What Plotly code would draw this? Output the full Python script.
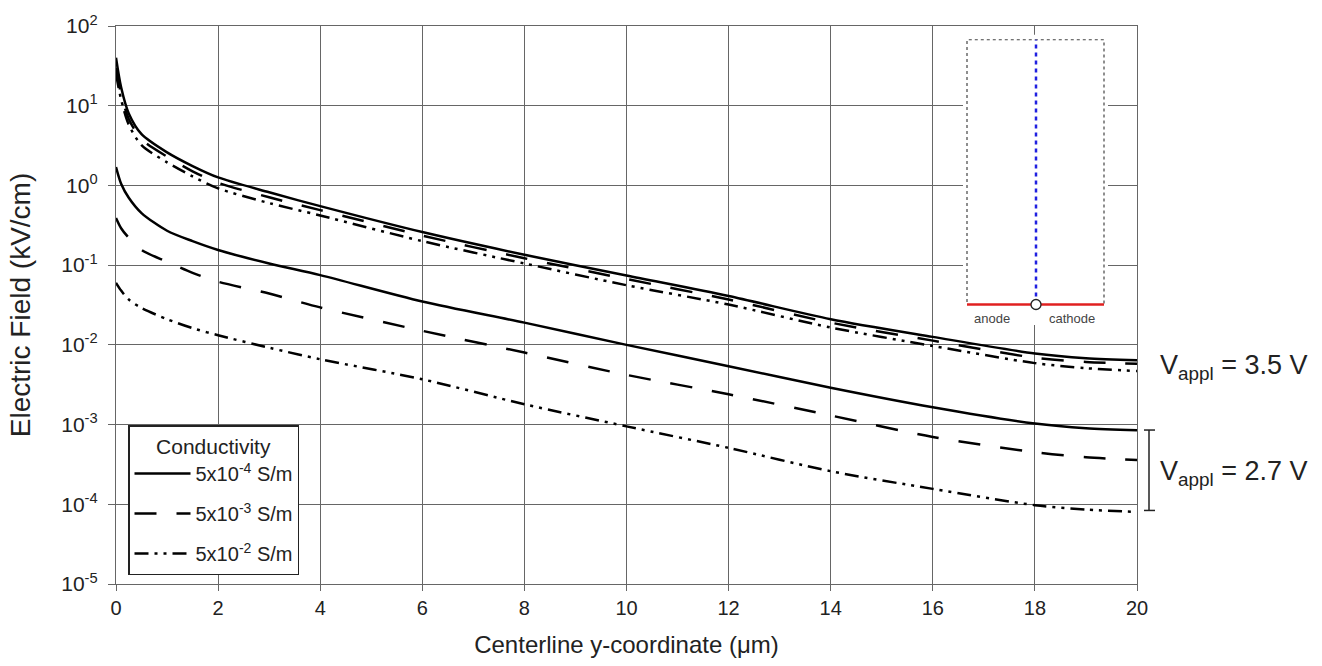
import plotly.graph_objects as go

# ---- data ----
y_um = [0, 0.1, 0.25, 0.5, 1, 1.5, 2, 3, 4, 6, 8, 10, 12, 14, 16, 18, 19, 20]

# V_appl = 3.5 V
e35_s4 = [40, 17, 8.0, 4.4, 2.6, 1.75, 1.26, 0.82, 0.55, 0.26, 0.135, 0.074, 0.041, 0.021, 0.0126, 0.0078, 0.0068, 0.0064]
e35_s3 = [30, 14, 6.8, 3.8, 2.3, 1.5, 1.08, 0.71, 0.49, 0.235, 0.122, 0.067, 0.037, 0.019, 0.0113, 0.0069, 0.0061, 0.0058]
e35_s2 = [25, 12, 5.8, 3.2, 1.95, 1.3, 0.92, 0.6, 0.42, 0.2, 0.105, 0.056, 0.032, 0.0165, 0.0097, 0.0059, 0.0051, 0.0047]

# V_appl = 2.7 V
e27_s4 = [1.7, 1.05, 0.7, 0.45, 0.27, 0.2, 0.155, 0.105, 0.075, 0.035, 0.019, 0.010, 0.0054, 0.0029, 0.00165, 0.00103, 0.0009, 0.00085]
e27_s3 = [0.39, 0.29, 0.22, 0.155, 0.11, 0.08, 0.062, 0.044, 0.0295, 0.015, 0.008, 0.0042, 0.0024, 0.0013, 0.0007, 0.00045, 0.00039, 0.00036]
e27_s2 = [0.06, 0.048, 0.037, 0.029, 0.021, 0.0162, 0.0132, 0.0092, 0.0066, 0.0037, 0.0018, 0.00095, 0.00051, 0.00026, 0.000156, 0.0000975, 0.000086, 0.00008]

legend_names = ["5x10<sup>-4</sup> S/m", "5x10<sup>-3</sup> S/m", "5x10<sup>-2</sup> S/m"]
ytick_vals = [1e-5, 1e-4, 1e-3, 1e-2, 1e-1, 1e0, 1e1, 1e2]
ytick_text = ["10<sup>-5</sup>", "10<sup>-4</sup>", "10<sup>-3</sup>", "10<sup>-2</sup>",
              "10<sup>-1</sup>", "10<sup>0</sup>", "10<sup>1</sup>", "10<sup>2</sup>"]

dashes = ["solid", "22px,20px", "14px,6px,3px,6px,3px,6px"]
FONT = "Liberation Sans, Arial, sans-serif"

fig = go.Figure()
groups = [(e35_s4, e27_s4), (e35_s3, e27_s3), (e35_s2, e27_s2)]
for i, (hi, lo) in enumerate(groups):
    fig.add_trace(go.Scatter(x=y_um, y=hi, mode="lines", name=legend_names[i],
                             legendgroup=f"g{i}", showlegend=True,
                             line=dict(color="black", width=2.5, dash=dashes[i], shape="spline", smoothing=0.8)))
    fig.add_trace(go.Scatter(x=y_um, y=lo, mode="lines", name=legend_names[i],
                             legendgroup=f"g{i}", showlegend=False,
                             line=dict(color="black", width=2.5, dash=dashes[i], shape="spline", smoothing=0.8)))

L, R, T, B = 116, 185, 20, 77
W, H = 1322, 666
pw, ph = W - L - R, H - T - B

def px(xp):
    return (xp - L) / pw

def py(yp):
    return (H - B - yp) / ph

shapes = []
# inset background (hides grid)
shapes.append(dict(type="rect", xref="paper", yref="paper", x0=px(963), x1=px(1108), y0=py(325), y1=py(29),
                   fillcolor="white", line=dict(width=0), layer="above"))
# inset dotted frame
shapes.append(dict(type="rect", xref="paper", yref="paper", x0=px(967), x1=px(1104), y0=py(304), y1=py(34),
                   line=dict(color="#444", width=1.2, dash="dot"), layer="above"))
# blue centerline
shapes.append(dict(type="line", xref="paper", yref="paper", x0=px(1036), x1=px(1036), y0=py(304), y1=py(34),
                   line=dict(color="#2020e0", width=2.5, dash="4px,4px"), layer="above"))
# red electrodes
shapes.append(dict(type="line", xref="paper", yref="paper", x0=px(967), x1=px(1104), y0=py(304), y1=py(304),
                   line=dict(color="#e02020", width=2.5), layer="above"))
# small circle at origin
shapes.append(dict(type="circle", xref="paper", yref="paper", xsizemode="pixel", ysizemode="pixel",
                   xanchor=px(1036), yanchor=py(304), x0=-5, x1=5, y0=-5, y1=5,
                   fillcolor="white", line=dict(color="#222", width=1.3), layer="above"))
# bracket for 2.7 V group
shapes.append(dict(type="line", xref="paper", yref="paper", x0=px(1149), x1=px(1149), y0=py(514), y1=py(432),
                   line=dict(color="#222", width=1.5)))
shapes.append(dict(type="line", xref="paper", yref="paper", x0=px(1144), x1=px(1155), y0=py(432), y1=py(432),
                   line=dict(color="#222", width=1.5)))
shapes.append(dict(type="line", xref="paper", yref="paper", x0=px(1144), x1=px(1155), y0=py(514), y1=py(514),
                   line=dict(color="#222", width=1.5)))

annotations = [
    dict(text="anode", xref="paper", yref="paper", x=px(992), y=py(318), xanchor="center", yanchor="middle",
         showarrow=False, font=dict(size=13, color="#444", family=FONT)),
    dict(text="cathode", xref="paper", yref="paper", x=px(1072), y=py(318), xanchor="center", yanchor="middle",
         showarrow=False, font=dict(size=13, color="#444", family=FONT)),
    dict(text="V<sub>appl</sub> = 3.5 V", xref="paper", yref="paper", x=px(1158), y=py(368),
         xanchor="left", yanchor="middle", showarrow=False, font=dict(size=27, color="#222", family=FONT)),
    dict(text="V<sub>appl</sub> = 2.7 V", xref="paper", yref="paper", x=px(1158), y=py(476),
         xanchor="left", yanchor="middle", showarrow=False, font=dict(size=27, color="#222", family=FONT)),
]

grid = "#666666"
fig.update_layout(
    width=W, height=H,
    margin=dict(l=L, r=R, t=T, b=B),
    paper_bgcolor="white", plot_bgcolor="white",
    font=dict(family=FONT, color="#222"),
    shapes=shapes, annotations=annotations,
    showlegend=True,
    legend=dict(x=px(128), y=py(580), xanchor="left", yanchor="bottom",
                bgcolor="white", bordercolor="#222", borderwidth=1.5,
                font=dict(size=20, family=FONT, color="#222"),
                title=dict(text="Conductivity", side="top center", font=dict(size=21, family=FONT, color="#222")),
                tracegroupgap=11, itemwidth=56),
    xaxis=dict(range=[0, 20], dtick=2, tick0=0, showgrid=True, gridcolor=grid, gridwidth=1.3,
               showline=True, linecolor=grid, linewidth=1.3, mirror=True, zeroline=False,
               ticks="outside", ticklen=6, tickcolor=grid,
               tickfont=dict(size=20, family=FONT, color="#222"),
               title=dict(text="Centerline y-coordinate (μm)", font=dict(size=24, family=FONT, color="#222"), standoff=18)),
    yaxis=dict(type="log", range=[-5, 2], tickvals=ytick_vals, ticktext=ytick_text,
               showgrid=True, gridcolor=grid, gridwidth=1.3,
               showline=True, linecolor=grid, linewidth=1.3, mirror=True, zeroline=False,
               ticks="outside", ticklen=7, tickcolor=grid, ticklabelstandoff=6,
               tickfont=dict(size=21, family=FONT, color="#222"),
               title=dict(text="Electric Field (kV/cm)", font=dict(size=28, family=FONT, color="#222"), standoff=22)),
)

fig.write_html("out.html")
